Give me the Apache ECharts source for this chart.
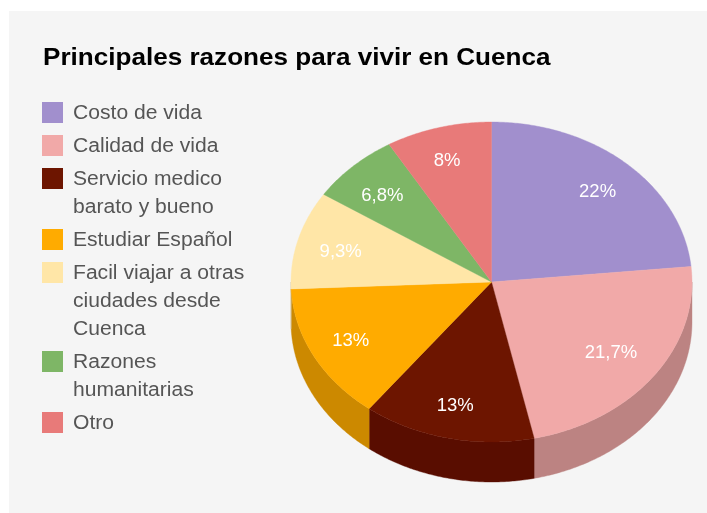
<!DOCTYPE html>
<html>
<head>
<meta charset="utf-8">
<style>
html, body { margin: 0; padding: 0; background: #fff; }
#chart { width: 707px; height: 513px; }
</style>
<script src="https://cdn.jsdelivr.net/npm/echarts@6/dist/echarts.min.js"></script>
</head>
<body>
<div id="chart"></div>
<script>
const title = 'Principales razones para vivir en Cuenca'
const categories = ['Costo de vida', 'Calidad de vida', 'Servicio medico\nbarato y bueno', 'Estudiar Español',
  'Facil viajar a otras\nciudades desde\nCuenca', 'Razones\nhumanitarias', 'Otro']
const values = [22, 21.7, 13, 13, 9.3, 6.8, 8]
const valueLabels = ['22%', '21,7%', '13%', '13%', '9,3%', '6,8%', '8%']
const topColors = ['#a18fcd', '#f1a9a8', '#6d1500', '#ffab00', '#ffe6a7', '#7eb666', '#e87a79']
const sideColors = ['#816ea4', '#bc8382', '#590d00', '#cc8900', '#ccb885', '#659252', '#b96160']

const FONT = '"Liberation Sans", Arial, sans-serif'
const DEPTH = 0.25      // 饼厚度,按 y 轴单位
const LABEL_R = 0.78    // 数值标签所在半径
// 标签相对默认位置的微调(px),原图不是严格放在同一半径上
const labelNudge = [[1, 2], [-7, -3], [-2, 2], [-2, 1], [0, 3], [-1, 4], [-3, -1]]
const total = values.reduce((a, b) => a + b, 0)

// 每块的起止角(弧度,从正上方顺时针)
let acc = 0
const sliceData = values.map((v, i) => {
  const start = acc / total * Math.PI * 2
  acc += v
  return [i, start, acc / total * Math.PI * 2]
})

function arc(api, a, b, yOffset) {
  const pts = []
  const n = Math.max(2, Math.ceil((b - a) / 0.01))
  for (let k = 0; k <= n; k++) {
    const t = a + (b - a) * k / n
    pts.push(api.coord([Math.sin(t), Math.cos(t) + yOffset]))
  }
  return pts
}

function renderTop(params, api) {
  const i = api.value(0)
  const a = api.value(1)
  const b = api.value(2)
  const mid = (a + b) / 2
  const pos = api.coord([Math.sin(mid) * LABEL_R, Math.cos(mid) * LABEL_R])
  return {
    type: 'group',
    children: [
      {
        type: 'polygon',
        shape: { points: [api.coord([0, 0])].concat(arc(api, a, b, 0)) },
        style: { fill: topColors[i], stroke: topColors[i], lineWidth: 0.4 },
      },
      {
        type: 'text',
        z2: 10,
        style: {
          text: valueLabels[i], x: pos[0] + labelNudge[i][0], y: pos[1] + labelNudge[i][1], fill: '#fff',
          fontSize: 18.5, fontFamily: FONT, align: 'center', verticalAlign: 'middle',
        },
      },
    ],
  }
}

// 只有朝前的半圈(90°~270°)露出侧面
function renderSide(params, api) {
  const i = api.value(0)
  const a = Math.max(api.value(1), Math.PI / 2)
  const b = Math.min(api.value(2), Math.PI * 1.5)
  if (b <= a) return null
  const points = arc(api, a, b, 0).concat(arc(api, a, b, -DEPTH).reverse())
  return {
    type: 'polygon',
    shape: { points },
    style: { fill: sideColors[i], stroke: sideColors[i], lineWidth: 0.4 },
  }
}

// 图例:色块与第一行文字对齐,多行时往下排
let legendY = 112
const legendRows = categories.map((c, i) => {
  const row = [i, legendY]
  legendY += c.split('\n').length * 28 + 5
  return row
})

function renderLegend(params, api) {
  const i = api.value(0)
  const y = api.value(1)
  const children = [{
    type: 'rect',
    shape: { x: 42, y: y - 10, width: 21, height: 21 },
    style: { fill: topColors[i] },
  }]
  categories[i].split('\n').forEach((line, k) => {
    children.push({
      type: 'text',
      x: 73,
      y: y + 1 + k * 28,
      scaleX: 1.055,   // 原图字距偏宽
      style: {
        text: line, fill: '#555',
        fontSize: 20, fontFamily: FONT, align: 'left', verticalAlign: 'middle',
      },
    })
  })
  return { type: 'group', children }
}

const chart = echarts.init(document.getElementById('chart'), null, { renderer: 'canvas' })
chart.setOption({
  animation: false,
  backgroundColor: '#fff',
  graphic: [
    {
      type: 'rect', z: -10, silent: true,
      shape: { x: 9, y: 11, width: 698, height: 502 },
      style: { fill: '#f5f5f5' },
    },
    {
      type: 'text', silent: true, x: 43, y: 58, scaleX: 1.087,
      style: {
        text: title, fill: '#000', fontSize: 24, fontWeight: 'bold', fontFamily: FONT,
        align: 'left', verticalAlign: 'middle',
      },
    },
  ],
  grid: { left: 291, top: 122, width: 401, height: 360 },
  xAxis: { type: 'value', min: -1, max: 1, show: false },
  yAxis: { type: 'value', min: -1 - DEPTH, max: 1, show: false },
  series: [
    { type: 'custom', name: 'side', data: sliceData, renderItem: renderSide, clip: false, silent: true, z: 1 },
    { type: 'custom', name: 'top', data: sliceData, renderItem: renderTop, clip: false, silent: true, z: 2 },
    { type: 'custom', name: 'legend', coordinateSystem: 'none', data: legendRows, renderItem: renderLegend, silent: true, z: 3 },
  ],
})
</script>
</body>
</html>
